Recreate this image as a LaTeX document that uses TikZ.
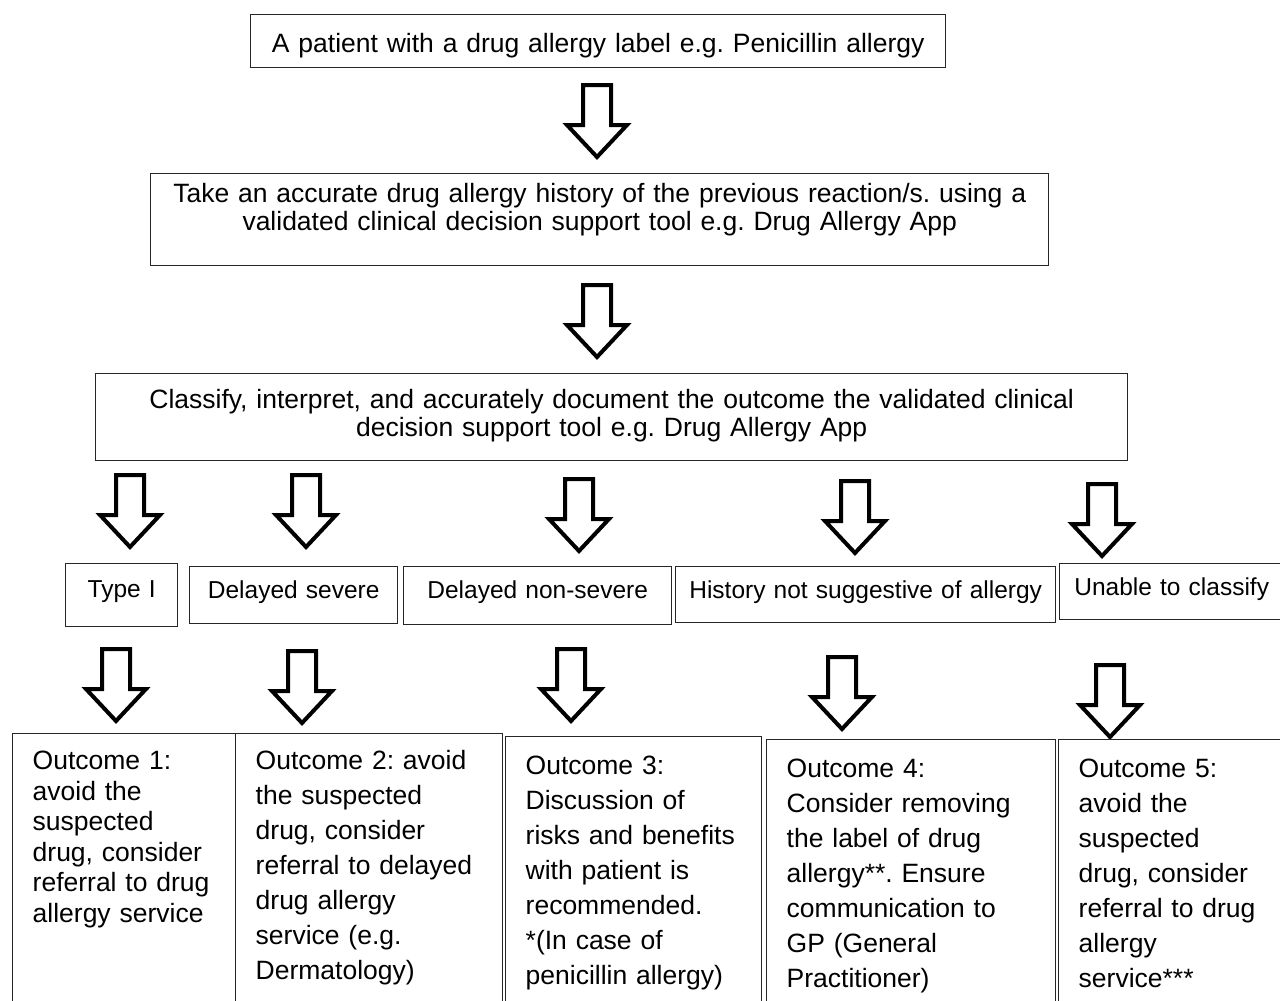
\documentclass[tikz,border=0pt]{standalone}
\usepackage{fontspec}
\setmainfont{Liberation Sans}
\usetikzlibrary{positioning}
\frenchspacing
\tikzset{
  stepbox/.style={draw=black!85, line width=1.4pt, inner sep=0pt, anchor=north west,
    align=center, font=\fontsize{26.5}{28}\selectfont},
  classbox/.style={stepbox, font=\fontsize{24.5}{29}\selectfont},
  outbox/.style={draw=black!85, line width=1.4pt, inner ysep=0pt, inner xsep=20pt,
    anchor=north west, align=left, font=\fontsize{26.5}{35}\selectfont},
  pics/hollowdown/.style={code={
    \draw[line width=4pt, fill=white] (-14,0) -- (14,0) -- (14,40) -- (30,40)
      -- (0,72) -- (-30,40) -- (-14,40) -- cycle;}}
}

\begin{document}
\begin{tikzpicture}[x=1pt, y=-1pt]
    \useasboundingbox (0,0) rectangle (1280,1001);
    \node[stepbox, text width=695pt, text height=37.5pt, text depth=15.5pt] (patient) at (250,14)
      {A patient with a drug allergy label e.g. Penicillin allergy};
    \node[stepbox, text width=898pt, text height=28.5pt, text depth=63.5pt] (history) at (150,173)
      {Take an accurate drug allergy history of the previous reaction/s. using a\\
       validated clinical decision support tool e.g. Drug Allergy App};
    \node[stepbox, text width=1032pt, text height=34.5pt, text depth=52.5pt] (classify) at (95,373)
      {Classify, interpret, and accurately document the outcome the validated clinical\\
       decision support tool e.g. Drug Allergy App};

    \pic at (597,85) {hollowdown};
    \pic at (597,285) {hollowdown};

    \node[classbox, text width=112pt, text height=34pt, text depth=29pt] (typeone) at (65,563) {Type I};
    \node[classbox, text width=208pt, text height=32pt, text depth=25pt] (dsevere) at (189,566) {Delayed severe};
    \node[classbox, text width=268pt, text height=32pt, text depth=26pt] (dnonsevere) at (403,566) {Delayed non-severe};
    \node[classbox, text width=380pt, text height=32pt, text depth=24pt] (notallergy) at (675,566) {History not suggestive of allergy};
    \node[classbox, text width=224pt, text height=32pt, text depth=24pt] (unclass) at (1059,563) {Unable to classify};

    \pic at (130,475) {hollowdown};
    \pic at (306,475) {hollowdown};
    \pic at (579,479) {hollowdown};
    \pic at (855,481) {hollowdown};
    \pic at (1102,484) {hollowdown};

    \pic at (116,649) {hollowdown};
    \pic at (302,651) {hollowdown};
    \pic at (571,649) {hollowdown};
    \pic at (842,657) {hollowdown};
    \pic at (1110,665) {hollowdown};

    \node[outbox, text width=183pt, text height=36pt, text depth=241pt,
      font=\fontsize{26.5}{30.5}\selectfont] (out1) at (12,733)
      {Outcome 1:\\ avoid the\\ suspected\\ drug, consider\\ referral to drug\\ allergy service};
    \node[outbox, text width=227pt, text height=36pt, text depth=241pt] (out2) at (235,733)
      {Outcome 2: avoid\\ the suspected\\ drug, consider\\ referral to delayed\\ drug allergy\\ service (e.g.\\ Dermatology)};
    \node[outbox, text width=216pt, text height=38pt, text depth=236pt] (out3) at (505,736)
      {Outcome 3:\\ Discussion of\\ risks and benefits\\ with patient is\\ recommended.\\ {*}(In case of\\ penicillin allergy)};
    \node[outbox, text width=249pt, text height=38pt, text depth=233pt] (out4) at (766,739)
      {Outcome 4:\\ Consider removing\\ the label of drug\\ allergy**. Ensure\\ communication to\\ GP (General\\ Practitioner)};
    \node[outbox, text width=185pt, text height=38pt, text depth=233pt] (out5) at (1058,739)
      {Outcome 5:\\ avoid the\\ suspected\\ drug, consider\\ referral to drug\\ allergy\\ service***};
\end{tikzpicture}
\end{document}
